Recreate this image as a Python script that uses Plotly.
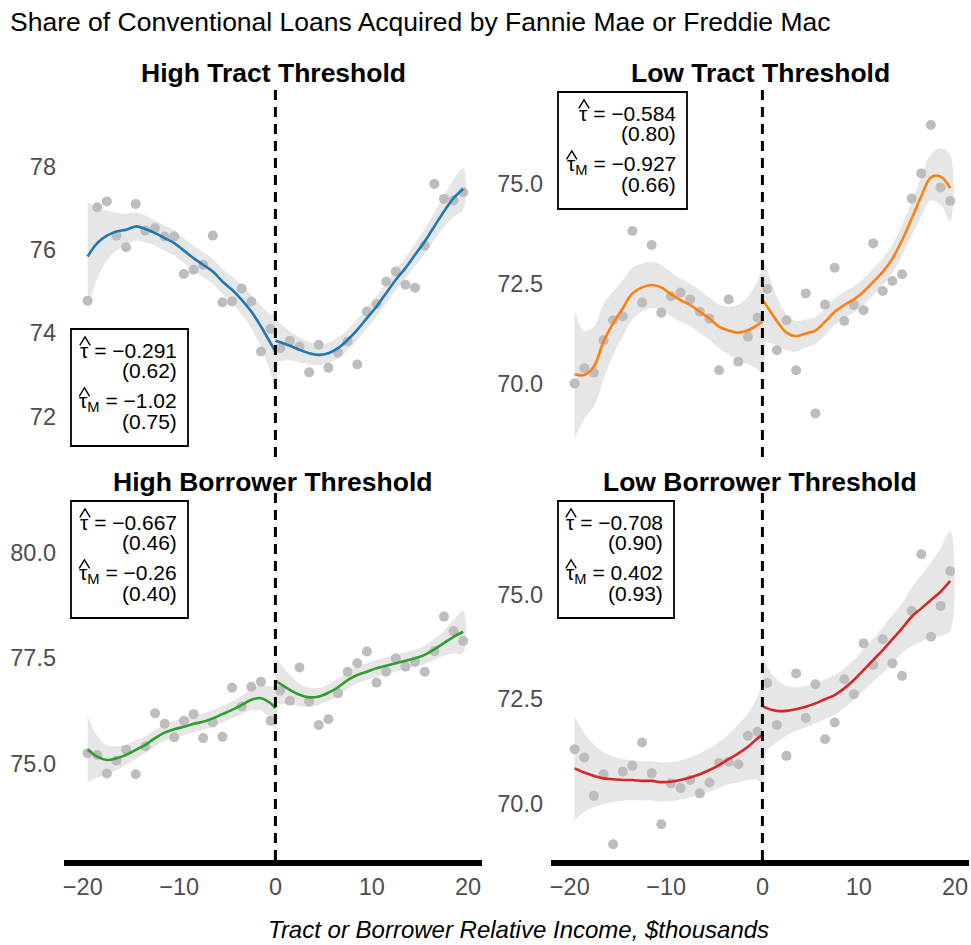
import plotly.graph_objects as go

W, H = 971, 945

# ---------------- data ----------------
bins_left = [-19.5, -18.5, -17.5, -16.5, -15.5, -14.5, -13.5, -12.5, -11.5, -10.5,
             -9.5, -8.5, -7.5, -6.5, -5.5, -4.5, -3.5, -2.5, -1.5, -0.5]
bins_right = [0.5, 1.5, 2.5, 3.5, 4.5, 5.5, 6.5, 7.5, 8.5, 9.5,
              10.5, 11.5, 12.5, 13.5, 14.5, 15.5, 16.5, 17.5, 18.5, 19.5]
fit_x_left = bins_left + [0.0]
fit_x_right = [0.0] + bins_right

panel_titles = ["High Tract Threshold", "Low Tract Threshold",
                "High Borrower Threshold", "Low Borrower Threshold"]
line_colors = ["#1F77B4", "#FF7F0E", "#2CA02C", "#D62728"]

# High Tract Threshold
ht_pts_left = [74.78, 77.02, 77.16, 76.34, 76.06, 77.10, 76.46, 76.52, 76.32, 76.32,
               75.42, 75.52, 75.64, 76.34, 74.74, 74.76, 75.07, 74.76, 73.56, 74.10]
ht_pts_right = [73.64, 73.82, 73.68, 73.06, 73.72, 73.17, 73.53, 73.80, 73.25, 74.52,
                74.70, 75.24, 75.48, 75.16, 75.09, 76.10, 77.58, 77.22, 77.18, 77.38]
ht_fit_left = [75.84, 76.16, 76.34, 76.44, 76.48, 76.56, 76.50, 76.40, 76.28, 76.16,
               75.98, 75.80, 75.64, 75.48, 75.24, 75.04, 74.80, 74.52, 74.16, 73.76, 73.56]
ht_fit_right = [73.82, 73.78, 73.70, 73.60, 73.52, 73.48, 73.52, 73.64, 73.84, 74.08,
                74.36, 74.64, 74.96, 75.28, 75.56, 75.88, 76.20, 76.56, 76.92, 77.24, 77.46]
ht_se_left = [1.3, 0.85, 0.6, 0.45, 0.38, 0.34, 0.32, 0.3, 0.3, 0.3,
              0.3, 0.3, 0.3, 0.3, 0.3, 0.32, 0.35, 0.4, 0.5, 0.7, 0.9]
ht_se_right = [0.5, 0.45, 0.35, 0.3, 0.27, 0.25, 0.25, 0.25, 0.25, 0.25,
               0.25, 0.25, 0.25, 0.25, 0.25, 0.27, 0.3, 0.33, 0.38, 0.45, 0.5]

# Low Tract Threshold
lt_pts_left = [70.00, 70.38, 70.27, 71.08, 71.58, 71.68, 73.81, 72.02, 73.46, 71.77,
               72.18, 72.27, 72.10, 71.79, 71.62, 70.33, 72.10, 70.54, 71.17, 71.64]
lt_pts_right = [72.36, 70.83, 71.58, 70.33, 72.25, 69.25, 71.97, 72.89, 71.56, 71.96,
                71.83, 73.50, 72.31, 72.56, 72.73, 74.62, 75.25, 76.46, 74.90, 74.56]
lt_fit_left = [70.23, 70.21, 70.42, 71.04, 71.50, 71.88, 72.25, 72.40, 72.46, 72.40,
               72.23, 72.08, 71.96, 71.79, 71.62, 71.42, 71.32, 71.27, 71.33, 71.46, 71.54]
lt_fit_right = [72.10, 71.92, 71.56, 71.27, 71.18, 71.25, 71.32, 71.54, 71.79, 71.96,
                72.10, 72.29, 72.54, 72.79, 73.12, 73.58, 74.12, 74.68, 75.15, 75.17, 74.88]
lt_se_left = [1.6, 1.1, 1.0, 0.95, 0.8, 0.7, 0.65, 0.6, 0.58, 0.56,
              0.55, 0.54, 0.53, 0.53, 0.53, 0.55, 0.6, 0.7, 0.85, 1.1, 1.3]
lt_se_right = [1.0, 0.9, 0.6, 0.45, 0.38, 0.35, 0.34, 0.33, 0.33, 0.33,
               0.33, 0.33, 0.33, 0.34, 0.35, 0.38, 0.42, 0.5, 0.58, 0.7, 0.83]

# High Borrower Threshold
hb_pts_left = [75.24, 75.20, 74.76, 75.06, 75.32, 74.74, 75.40, 76.19, 75.94, 75.62,
               76.01, 76.17, 75.60, 75.97, 75.63, 76.80, 76.35, 76.82, 76.94, 76.01]
hb_pts_right = [76.73, 76.49, 77.28, 76.47, 75.91, 76.05, 76.67, 77.18, 77.38, 77.66,
                76.92, 77.18, 77.50, 77.30, 77.42, 77.18, 77.67, 78.49, 78.15, 77.91]
hb_fit_left = [75.33, 75.16, 75.08, 75.12, 75.20, 75.32, 75.44, 75.60, 75.73, 75.81,
               75.87, 75.94, 75.99, 76.07, 76.17, 76.27, 76.39, 76.51, 76.55, 76.43, 76.31]
hb_fit_right = [76.97, 76.89, 76.75, 76.63, 76.57, 76.59, 76.68, 76.81, 76.98, 77.10,
                77.18, 77.26, 77.32, 77.38, 77.44, 77.50, 77.58, 77.71, 77.86, 78.01, 78.13]
hb_se_left = [0.78, 0.5, 0.35, 0.28, 0.24, 0.22, 0.2, 0.2, 0.2, 0.2,
              0.2, 0.2, 0.2, 0.2, 0.2, 0.2, 0.22, 0.25, 0.3, 0.4, 0.5]
hb_se_right = [0.55, 0.48, 0.35, 0.27, 0.23, 0.2, 0.2, 0.2, 0.2, 0.2,
               0.2, 0.2, 0.2, 0.2, 0.2, 0.2, 0.22, 0.25, 0.3, 0.4, 0.5]

# Low Borrower Threshold
lb_pts_left = [71.30, 71.10, 70.18, 70.70, 69.02, 70.76, 70.90, 71.46, 70.72, 69.50,
               70.48, 70.37, 70.56, 70.24, 70.50, 70.97, 71.00, 70.94, 71.62, 71.72]
lb_pts_right = [72.89, 71.88, 71.14, 73.12, 72.05, 72.86, 71.54, 71.94, 72.98, 72.62,
                73.84, 73.32, 73.94, 73.36, 73.06, 74.62, 75.98, 74.00, 74.74, 75.57]
lb_fit_left = [70.84, 70.74, 70.66, 70.60, 70.58, 70.56, 70.56, 70.54, 70.54, 70.51,
               70.52, 70.56, 70.62, 70.70, 70.80, 70.92, 71.06, 71.20, 71.36, 71.56, 71.64]
lb_fit_right = [72.34, 72.28, 72.22, 72.22, 72.26, 72.32, 72.40, 72.50, 72.60, 72.76,
                72.96, 73.20, 73.44, 73.68, 73.94, 74.20, 74.48, 74.68, 74.88, 75.08, 75.34]
lb_se_left = [1.25, 0.95, 0.75, 0.62, 0.55, 0.5, 0.48, 0.47, 0.47, 0.47,
              0.47, 0.47, 0.48, 0.5, 0.52, 0.55, 0.6, 0.7, 0.8, 1.0, 1.18]
lb_se_right = [1.2, 1.0, 0.75, 0.6, 0.52, 0.5, 0.48, 0.48, 0.48, 0.48,
               0.48, 0.5, 0.52, 0.55, 0.58, 0.6, 0.7, 0.8, 0.9, 1.05, 1.2]

tau_hat = ["−0.291", "−0.584", "−0.667", "−0.708"]
tau_hat_se = ["(0.62)", "(0.80)", "(0.46)", "(0.90)"]
tau_m = ["−1.02", "−0.927", "−0.26", "0.402"]
tau_m_se = ["(0.75)", "(0.66)", "(0.40)", "(0.93)"]

y_ticks = [[72, 74, 76, 78], [70.0, 72.5, 75.0], [75.0, 77.5, 80.0], [70.0, 72.5, 75.0]]
y_tick_text = [["72", "74", "76", "78"], ["70.0", "72.5", "75.0"],
               ["75.0", "77.5", "80.0"], ["70.0", "72.5", "75.0"]]
x_ticks = [-20, -10, 0, 10, 20]

# ---------------- layout geometry (pixels) ----------------
x_dom_px = [(64, 482), (551, 969), (64, 482), (551, 969)]
y_dom_px = [(83, 457), (83, 457), (488, 860), (488, 860)]
y_ranges = [[71.03, 80.0], [68.16, 77.51], [72.70, 81.55], [68.64, 77.57]]
x_range = [-21.95, 21.45]
boxes_px = [(71, 329, 188, 446), (558, 92, 687, 209), (71, 501, 188, 618), (558, 501, 674, 618)]

FONT = "Liberation Sans, Arial, sans-serif"
GREY_TXT = "#4D4D4D"
BOX_FS = 21

# approximate advance widths (em) of Liberation Sans, used to place the hat over tau
ADV = {"0": .556, "1": .556, "2": .556, "3": .556, "4": .556, "5": .556, "6": .556,
       "7": .556, "8": .556, "9": .556, ".": .278, "−": .584, "=": .584, " ": .278}


def text_w(s, fs):
    return sum(ADV.get(c, .556) for c in s) * fs


panels = [
    (ht_pts_left, ht_pts_right, ht_fit_left, ht_fit_right, ht_se_left, ht_se_right),
    (lt_pts_left, lt_pts_right, lt_fit_left, lt_fit_right, lt_se_left, lt_se_right),
    (hb_pts_left, hb_pts_right, hb_fit_left, hb_fit_right, hb_se_left, hb_se_right),
    (lb_pts_left, lb_pts_right, lb_fit_left, lb_fit_right, lb_se_left, lb_se_right),
]

fig = go.Figure()
shapes = []
annotations = []


def px(x):
    return x / W


def py(y):
    return 1 - y / H


def hat(cx, cy):
    # caret drawn above tau; cx, cy = pixel centre of the text line
    x0, x1, xm = cx - 5.2, cx + 5.2, cx
    yb, yt = cy - 5.3, cy - 13.8
    return dict(type="path", xref="paper", yref="paper", layer="above",
                path="M %f,%f L %f,%f L %f,%f" % (px(x0), py(yb), px(xm), py(yt), px(x1), py(yb)),
                line=dict(color="black", width=1.4))


for i, (pl, pr, fl, fr, sl, sr) in enumerate(panels):
    k = "" if i == 0 else str(i + 1)
    xa, ya = "x" + k, "y" + k
    for fx, fy, se in ((fit_x_left, fl, sl), (fit_x_right, fr, sr)):
        upper = [v + s for v, s in zip(fy, se)]
        lower = [v - s for v, s in zip(fy, se)]
        fig.add_trace(go.Scatter(
            x=fx + fx[::-1], y=upper + lower[::-1], fill="toself",
            fillcolor="#E6E6E6", line=dict(width=0, shape="spline"), mode="lines",
            xaxis=xa, yaxis=ya, hoverinfo="skip", showlegend=False))
    for bx, by in ((bins_left, pl), (bins_right, pr)):
        fig.add_trace(go.Scatter(
            x=bx, y=by, mode="markers", marker=dict(size=10, color="#BDBDBD"),
            xaxis=xa, yaxis=ya, showlegend=False))
    for fx, fy in ((fit_x_left, fl), (fit_x_right, fr)):
        fig.add_trace(go.Scatter(
            x=fx, y=fy, mode="lines", line=dict(color=line_colors[i], width=2.6, shape="spline"),
            xaxis=xa, yaxis=ya, showlegend=False))

    bottom = i >= 2
    fig.layout["xaxis" + k] = dict(
        domain=[px(x_dom_px[i][0]), px(x_dom_px[i][1])], range=x_range, anchor=ya,
        showgrid=False, zeroline=False, tickvals=x_ticks, ticks="",
        showticklabels=bottom, showline=bottom, linewidth=6, linecolor="black",
        tickfont=dict(family=FONT, size=23.5, color=GREY_TXT), ticklabelstandoff=1)
    fig.layout["yaxis" + k] = dict(
        domain=[py(y_dom_px[i][1]), py(y_dom_px[i][0])], range=y_ranges[i], anchor=xa,
        showgrid=False, zeroline=False, showline=False, ticks="",
        tickvals=y_ticks[i], ticktext=y_tick_text[i],
        tickfont=dict(family=FONT, size=23.5, color=GREY_TXT), ticklabelstandoff=7)

    shapes.append(dict(type="line", xref=xa, yref=ya + " domain", x0=0, x1=0, y0=0, y1=1,
                       line=dict(color="black", width=3, dash="10px,7px")))

    cx = (x_dom_px[i][0] + x_dom_px[i][1]) / 2
    ty = 73 if i < 2 else 482
    annotations.append(dict(text="<b>%s</b>" % panel_titles[i], x=px(cx), y=py(ty),
                            xref="paper", yref="paper", showarrow=False,
                            xanchor="center", yanchor="middle",
                            font=dict(family=FONT, size=26.5, color="black")))

    # estimate box
    x0, y0, x1, y1 = boxes_px[i]
    shapes.append(dict(type="rect", xref="paper", yref="paper",
                       x0=px(x0), x1=px(x1), y0=py(y1), y1=py(y0),
                       line=dict(color="black", width=1.8), fillcolor="white", layer="above"))
    xr = x1 - 9
    rest1 = "= " + tau_hat[i]
    rest2 = "= " + tau_m[i]
    lines = ["τ " + rest1, tau_hat_se[i], "τ<sub>M</sub> " + rest2, tau_m_se[i]]
    offs = [21.7, 41.7, 72.7, 92.7]
    for t, o in zip(lines, offs):
        annotations.append(dict(text=t, x=px(xr), y=py(y0 + o), xref="paper", yref="paper",
                                showarrow=False, xanchor="right", yanchor="middle",
                                font=dict(family=FONT, size=BOX_FS, color="black")))
    tau_half = 0.25 * BOX_FS
    hx1 = xr - text_w(rest1, BOX_FS) - 0.278 * BOX_FS - tau_half
    hx2 = xr - text_w(rest2, BOX_FS) - 0.278 * BOX_FS - 0.833 * 0.7 * BOX_FS - tau_half
    shapes.append(hat(hx1, y0 + offs[0]))
    shapes.append(hat(hx2, y0 + offs[2]))

annotations.append(dict(text="Share of Conventional Loans Acquired by Fannie Mae or Freddie Mac",
                        x=px(8), y=py(22), xref="paper", yref="paper", showarrow=False,
                        xanchor="left", yanchor="middle",
                        font=dict(family=FONT, size=26.5, color="black")))
annotations.append(dict(text="Tract or Borrower Relative Income, $thousands",
                        x=px(518), y=py(929), xref="paper", yref="paper", showarrow=False,
                        xanchor="center", yanchor="middle",
                        font=dict(family=FONT, size=24, color="black", style="italic")))

fig.update_layout(width=W, height=H, margin=dict(l=0, r=0, t=0, b=0),
                  paper_bgcolor="white", plot_bgcolor="white",
                  shapes=shapes, annotations=annotations, showlegend=False)

fig.write_html("out.html")
